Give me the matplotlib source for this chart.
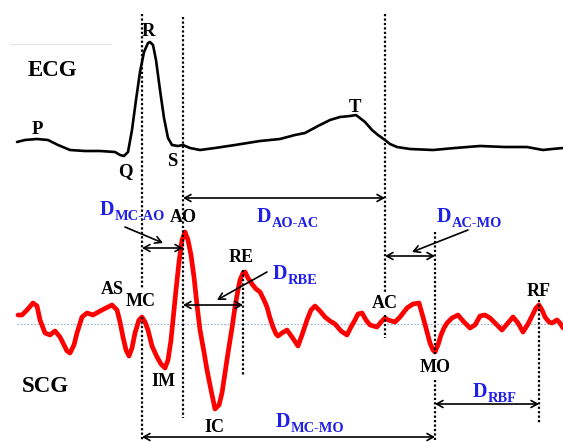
import numpy as np
import matplotlib.pyplot as plt

# === Traces (picture coordinates, y grows downward) ===
ecg_x = [17, 25, 37, 48, 58, 70, 85, 100, 115, 120, 124, 128, 132, 136, 140, 144, 148, 150,
         153, 156, 160, 164, 168, 172, 178, 183, 190, 200, 215, 235, 260, 280, 295, 305,
         318, 330, 340, 350, 356, 365, 372, 378, 385, 390, 397, 410, 433, 455, 480, 505,
         527, 543, 552, 563]
ecg_y = [142, 140, 139, 140, 145, 150, 151, 151, 152, 155, 156, 152, 130, 100, 72, 52, 43, 42,
         45, 60, 90, 118, 138, 145, 146, 145, 148, 150, 148, 145, 141, 139, 135, 133,
         126, 120, 117, 116, 115, 122, 130, 135, 140, 144, 147, 149, 150, 148, 146, 147,
         147, 150, 149, 148]

scg_x = [18, 22, 27, 33, 37, 40, 45, 50, 55, 60, 63, 67, 70, 74, 77, 82, 87, 93, 102, 108,
         112, 117, 120, 123, 126, 129, 132, 135, 139, 142, 145, 148, 152, 157, 161, 165,
         168, 171, 173, 176, 179, 182, 185, 188, 191, 194, 197, 200, 204, 207, 211, 215,
         219, 222, 225, 228, 232, 235, 238, 240, 243, 245, 248, 252, 256, 260, 264, 267,
         270, 273, 276, 278, 282, 287, 292, 298, 302, 307, 311, 315, 320, 325, 330, 335,
         341, 347, 351, 355, 358, 362, 366, 370, 377, 381, 385, 388, 395, 400, 407, 413,
         419, 423, 427, 430, 433, 435, 438, 441, 444, 447, 452, 458, 464, 470, 475, 480,
         485, 490, 496, 502, 508, 513, 518, 523, 528, 533, 536, 539, 542, 545, 549, 552,
         557, 560, 563]
scg_y = [315, 315, 310, 303, 306, 320, 333, 335, 331, 337, 343, 351, 353, 345, 333, 317, 313,
         315, 310, 307, 305, 310, 322, 337, 350, 356, 348, 333, 320, 317, 322, 330, 346,
         357, 364, 368, 360, 340, 320, 290, 262, 240, 232, 240, 255, 277, 305, 330, 352,
         370, 390, 409, 405, 393, 373, 353, 328, 307, 290, 280, 273, 272, 278, 284, 289,
         292, 300, 307, 318, 327, 334, 336, 333, 330, 337, 346, 335, 320, 310, 306, 311,
         317, 321, 324, 331, 335, 327, 320, 314, 313, 320, 325, 327, 322, 318, 320, 322,
         317, 308, 304, 303, 317, 332, 343, 350, 352, 345, 335, 328, 323, 318, 315, 322,
         328, 325, 316, 315, 318, 324, 330, 323, 317, 323, 332, 324, 314, 308, 305, 310,
         317, 322, 323, 320, 323, 328]

# ECG wave labels
ecg_names = ['P', 'R', 'Q', 'S', 'T']
ecg_lx = [37, 148, 125, 172, 355]
ecg_ly = [130, 31, 172, 162, 107]

# SCG fiducial labels
scg_names = ['AO', 'AS', 'MC', 'IM', 'IC', 'RE', 'AC', 'MO', 'RF']
scg_lx = [183, 112, 141, 163, 214, 241, 385, 435, 539]
scg_ly = [218, 290, 302, 382, 428, 258, 304, 368, 291]

# dotted event markers: x, segments (y0, y1)
markers = {
    'MC': (142, [(14, 288), (317, 440)]),
    'AO': (183, [(17, 418)]),
    'RE': (243, [(270, 375)]),
    'AC': (385, [(14, 292), (315, 338)]),
    'MO': (435, [(232, 354), (380, 442)]),
    'RF': (539, [(300, 423)]),
}

# intervals: subscript, x_start, x_end, arrow y, label left, label baseline
intervals = [
    ('MC-AO', 142, 183, 248, 100, 215),
    ('AO-AC', 183, 385, 198, 257, 222),
    ('AC-MO', 385, 435, 256, 437, 222),
    ('RBE', 183, 243, 305, 273, 279),
    ('RBF', 435, 539, 404, 473, 397),
    ('MC-MO', 142, 435, 437, 276, 427),
]

# pointer arrows from labels: (x0, y0) -> (x1, y1)
pointers = [
    ((125, 227), (163, 243)),
    ((267, 272), (217, 300)),
    ((468, 230), (412, 252)),
]

baseline_y = 324

# === Plot ===
fig = plt.figure(figsize=(5.63, 4.42), dpi=100)
ax = fig.add_axes([0, 0, 1, 1])
ax.set_xlim(0, 563)
ax.set_ylim(442, 0)
ax.axis('off')

serif = 'Liberation Serif'
blue = '#1f1fe8'

# faint rule at top left
ax.plot([10, 110], [44, 44], color='#e4e4e4', lw=0.8)

# zero line of SCG
ax.plot([17, 563], [baseline_y, baseline_y], color='#8fb2dc', lw=0.8, dashes=(1.5, 1.5))

# traces
ax.plot(ecg_x, ecg_y, color='black', lw=1.9, solid_joinstyle='round', solid_capstyle='round')
ax.plot(scg_x, scg_y, color='#ff0000', lw=3.4, solid_joinstyle='round', solid_capstyle='round')

# dotted markers
for name, (x, segs) in markers.items():
    for y0, y1 in segs:
        ax.plot([x, x], [y0, y1], color='black', lw=1.6, dashes=(1, 1))

# interval arrows
for sub, xa, xb, ya, lx, ly in intervals:
    ax.annotate('', xy=(xb, ya), xytext=(xa, ya),
                arrowprops=dict(arrowstyle='<->,head_length=0.45,head_width=0.25',
                                color='black', lw=1.2, shrinkA=0, shrinkB=0))
    ax.text(lx, ly, 'D', color=blue, fontsize=14.5, fontweight='bold', family=serif,
            ha='left', va='baseline')
    ax.text(lx + 15, ly + 5, sub, color=blue, fontsize=10.4, fontweight='bold', family=serif,
            ha='left', va='baseline')

for (x0, y0), (x1, y1) in pointers:
    ax.annotate('', xy=(x1, y1), xytext=(x0, y0),
                arrowprops=dict(arrowstyle='->,head_length=0.45,head_width=0.25',
                                color='black', lw=1.2, shrinkA=0, shrinkB=0))

# labels
ax.text(52, 70, 'ECG', fontsize=16.5, fontweight='bold', family=serif, ha='center', va='center')
ax.text(45, 387, 'SCG', fontsize=16.5, fontweight='bold', family=serif, ha='center', va='center')
for n, x, y in zip(ecg_names, ecg_lx, ecg_ly):
    ax.text(x, y, n, fontsize=13.5, fontweight='bold', family=serif, ha='center', va='center')
for n, x, y in zip(scg_names, scg_lx, scg_ly):
    ax.text(x, y, n, fontsize=13, fontweight='bold', family=serif, ha='center', va='center')

fig.savefig('out.png', dpi=100)
